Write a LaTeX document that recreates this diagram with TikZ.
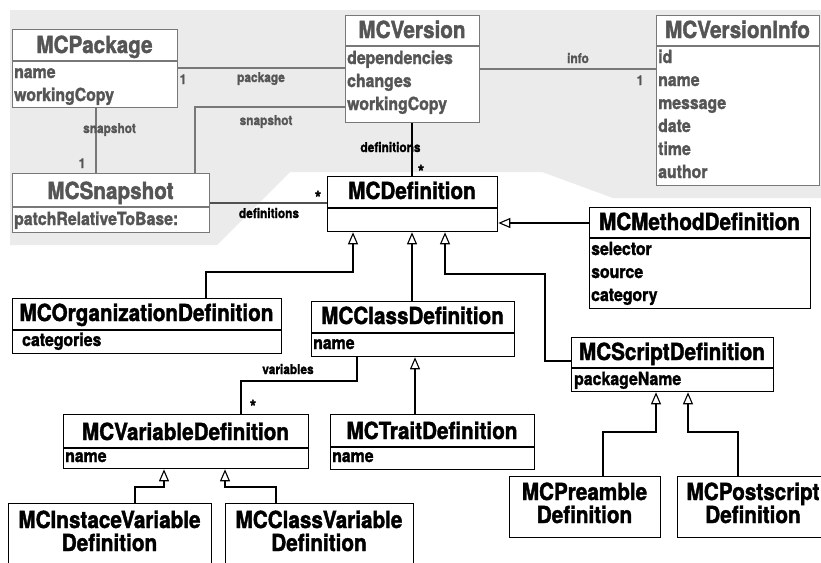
\documentclass[tikz,border=0pt]{standalone}
\usepackage{fontspec}
\setmainfont{TeX Gyre Heros}[FakeStretch=0.88, BoldFeatures={FakeBold=1.6}]
\usetikzlibrary{arrows.meta}
\definecolor{bggray}{RGB}{235,235,235}
\definecolor{txtgray}{RGB}{85,85,85}
\definecolor{lngray}{RGB}{120,120,120}
\definecolor{dkgray}{RGB}{80,80,80}
\tikzset{
  clsbox/.style={draw, line width=1.3pt, fill=white, inner sep=0pt, anchor=north west},
  gbox/.style={clsbox, draw=lngray, line width=1.1pt},
  ttl/.style={font=\fontsize{23.5}{23}\selectfont\bfseries, inner sep=0pt, anchor=base},
  att/.style={font=\fontsize{18}{23}\selectfont\bfseries, inner sep=0pt, anchor=base west},
  lbl/.style={font=\fontsize{13.5}{15}\selectfont\bfseries, inner sep=0pt, anchor=base},
  star/.style={font=\fontsize{18}{18}\selectfont\bfseries, inner sep=0pt, anchor=base},
  gtxt/.style={text=txtgray},
  divline/.style={line width=1.3pt},
  gdivline/.style={line width=1.1pt, draw=lngray},
  assoc/.style={draw, line width=1.2pt},
  gassoc/.style={draw=lngray, line width=1.2pt},
  gen/.style={draw, line width=1.2pt, -{Triangle[open, length=12pt, width=10pt, line width=1.1pt]}},
}
\begin{document}
\begin{tikzpicture}[x=1pt, y=-1pt]
\useasboundingbox (0,0) rectangle (821,562);
\clip (0,0) rectangle (821,562);
% background
\fill[bggray] (10,10) -- (821,10) -- (821,198) -- (613,198) -- (542,172) -- (290,172) -- (217,245) -- (10,245) -- cycle;

% boxes
\node[gbox, minimum width=165pt, minimum height=78pt] (pkg) at (12,29) {};
\node[gbox, minimum width=134pt, minimum height=107pt] (ver) at (345,15) {};
\node[gbox, minimum width=163pt, minimum height=170pt] (info) at (656,15) {};
\node[gbox, minimum width=197pt, minimum height=59pt] (snap) at (12,173) {};
\node[clsbox, minimum width=170pt, minimum height=55pt] (def) at (327,176) {};
\node[clsbox, minimum width=221pt, minimum height=101pt] (meth) at (589,207) {};
\node[clsbox, minimum width=269pt, minimum height=55pt] (org) at (12,298) {};
\node[clsbox, minimum width=203pt, minimum height=55pt] (cls) at (311,301) {};
\node[clsbox, minimum width=202pt, minimum height=54pt] (scr) at (571,337) {};
\node[clsbox, minimum width=245pt, minimum height=54pt] (var) at (63,414) {};
\node[clsbox, minimum width=204pt, minimum height=55pt] (trait) at (330,414) {};
\node[clsbox, minimum width=203pt, minimum height=80pt] (ivar) at (8,503) {};
\node[clsbox, minimum width=188pt, minimum height=80pt] (cvar) at (225,503) {};
\node[clsbox, minimum width=151pt, minimum height=61pt] (pre) at (509,476) {};
\node[clsbox, minimum width=153pt, minimum height=61pt] (post) at (677,476) {};

% dividers
\draw[gdivline] (pkg.west |- 0,61) -- (pkg.east |- 0,61);
\draw[gdivline] (ver.west |- 0,46) -- (ver.east |- 0,46);
\draw[gdivline] (info.west |- 0,46) -- (info.east |- 0,46);
\draw[gdivline] (snap.west |- 0,207) -- (snap.east |- 0,207);
\draw[divline] (def.west |- 0,208) -- (def.east |- 0,208);
\draw[divline] (meth.west |- 0,238) -- (meth.east |- 0,238);
\draw[divline] (org.west |- 0,330) -- (org.east |- 0,330);
\draw[divline] (cls.west |- 0,333) -- (cls.east |- 0,333);
\draw[divline] (scr.west |- 0,368) -- (scr.east |- 0,368);
\draw[divline] (var.west |- 0,448) -- (var.east |- 0,448);
\draw[divline] (trait.west |- 0,447) -- (trait.east |- 0,447);

% titles
\node[ttl, gtxt] (pkgT) at (94.5,53) {MCPackage};
\node[ttl, gtxt] (verT) at (412,38) {MCVersion};
\node[ttl, gtxt] (infoT) at (737.5,38) {MCVersionInfo};
\node[ttl, gtxt] (snapT) at (110.5,199) {MCSnapshot};
\node[ttl] (defT) at (412,199) {MCDefinition};
\node[ttl] (methT) at (699.5,230) {MCMethodDefinition};
\node[ttl] (orgT) at (146.5,321) {MCOrganizationDefinition};
\node[ttl] (clsT) at (412.5,324) {MCClassDefinition};
\node[ttl] (scrT) at (672,360) {MCScriptDefinition};
\node[ttl] (varT) at (185.5,440) {MCVariableDefinition};
\node[ttl] (traitT) at (432,439) {MCTraitDefinition};
\node[ttl] (ivarT) at (109.5,528) {MCInstaceVariable};
\node[ttl] (ivarT2) at (109.5,551) {Definition};
\node[ttl] (cvarT) at (319,528) {MCClassVariable};
\node[ttl] (cvarT2) at (319,551) {Definition};
\node[ttl] (preT) at (584.5,500) {MCPreamble};
\node[ttl] (preT2) at (584.5,523) {Definition};
\node[ttl] (postT) at (753,500) {MCPostscript};
\node[ttl] (postT2) at (753,523) {Definition};

% attributes
\node[att, gtxt] (pkgA1) at (14,78) {name};
\node[att, gtxt] (pkgA2) at (14,101) {workingCopy};
\node[att, gtxt] (verA1) at (347,64) {dependencies};
\node[att, gtxt] (verA2) at (347,87) {changes};
\node[att, gtxt] (verA3) at (347,110) {workingCopy};
\node[att, gtxt] (infoA1) at (658,63) {id};
\node[att, gtxt] (infoA2) at (658,86) {name};
\node[att, gtxt] (infoA3) at (658,109) {message};
\node[att, gtxt] (infoA4) at (658,132) {date};
\node[att, gtxt] (infoA5) at (658,155) {time};
\node[att, gtxt] (infoA6) at (658,178) {author};
\node[att, gtxt] (snapA1) at (14,225) {patchRelativeToBase:};
\node[att] (methA1) at (591,255) {selector};
\node[att] (methA2) at (591,278) {source};
\node[att] (methA3) at (591,301) {category};
\node[att] (orgA1) at (22,346) {categories};
\node[att] (clsA1) at (313,349) {name};
\node[att] (scrA1) at (574,385) {packageName};
\node[att] (varA1) at (65,462) {name};
\node[att] (traitA1) at (332,462) {name};

% associations
\draw[gassoc] (pkg.east |- 0,68) -- (ver.west |- 0,68);
\draw[gassoc] (pkg.south -| 96,0) -- (snap.north -| 96,0);
\draw[gassoc] (ver.west |- 0,107) -- (195,107) -- (snap.north -| 195,0);
\draw[gassoc] (ver.east |- 0,69) -- (info.west |- 0,69);
\draw[assoc] (ver.south -| 412,0) -- (def.north -| 412,0);
\draw[assoc, draw=dkgray] (snap.east |- 0,203) -- (def.west |- 0,203);
\draw[assoc] (cls.south -| 357,0) -- (357,381) -- (241,381) -- (var.north -| 241,0);

% generalizations
\draw[gen] (meth.west |- 0,223) -- (def.east |- 0,223);
\draw[gen] (org.north -| 206,0) -- (206,272) -- (353,272) -- (def.south -| 353,0);
\draw[gen] (cls.north -| 412,0) -- (def.south -| 412,0);
\draw[gen] (scr.west |- 0,361) -- (545,361) -- (545,274) -- (445,274) -- (def.south -| 445,0);
\draw[gen] (trait.north -| 415,0) -- (cls.south -| 415,0);
\draw[gen] (ivar.north -| 135,0) -- (135,487) -- (164,487) -- (var.south -| 164,0);
\draw[gen] (cvar.north -| 276,0) -- (276,487) -- (225,487) -- (var.south -| 225,0);
\draw[gen] (pre.north -| 603,0) -- (603,432) -- (656,432) -- (scr.south -| 656,0);
\draw[gen] (post.north -| 738,0) -- (738,432) -- (688,432) -- (scr.south -| 688,0);

% labels
\node[lbl, gtxt] (l1) at (183,84) {1};
\node[lbl, gtxt] (lpkg) at (261,82) {package};
\node[lbl, gtxt] (lsnap1) at (109.5,133) {snapshot};
\node[lbl, gtxt] (l2) at (82,168) {1};
\node[lbl, gtxt] (lsnap2) at (266,125) {snapshot};
\node[lbl, gtxt] (linfo) at (578,63) {info};
\node[lbl, gtxt] (l3) at (640,85) {1};
\node[lbl] (ldef1) at (390.5,152) {definitions};
\node[star] (s1) at (421,178) {*};
\node[lbl] (ldef2) at (269,218) {definitions};
\node[star] (s2) at (318,204) {*};
\node[lbl] (lvar) at (288,374) {variables};
\node[star] (s3) at (253,413) {*};
\end{tikzpicture}
\end{document}
